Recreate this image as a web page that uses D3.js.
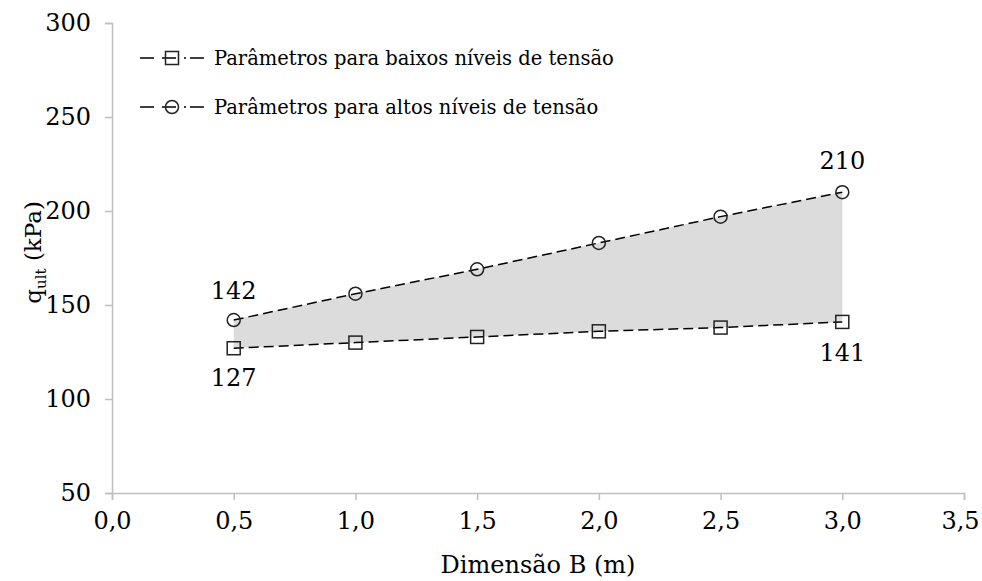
<!DOCTYPE html>
<html>
<head>
<meta charset="utf-8">
<script src="https://cdn.jsdelivr.net/npm/d3@7"></script>
<style>
  body { margin: 0; background: #fff; }
</style>
</head>
<body>
<div id="chart"></div>
<script>
// --------------- Data ---------------
const dimensoes = [0.5, 1.0, 1.5, 2.0, 2.5, 3.0];
const baixos = [127, 130, 133, 136, 138, 141];
const altos = [142, 156, 169, 183, 197, 210];
const xTicks = [0, 0.5, 1.0, 1.5, 2.0, 2.5, 3.0, 3.5];
const yTicks = [50, 100, 150, 200, 250, 300];
const legendLabels = [
  "Parâmetros para baixos níveis de tensão",
  "Parâmetros para altos níveis de tensão"
];

// --------------- Constants ---------------
const WIDTH = 982;
const HEIGHT = 581;
const FONT = "'DejaVu Serif', serif";
const AXIS_COLOR = "#bfbfbf";
const BAND_COLOR = "#dcdcdc";
const FS = 24;

const svg = d3.select("#chart")
  .append("svg")
  .attr("width", WIDTH)
  .attr("height", HEIGHT)
  .style("font-family", FONT);

const x = d3.scaleLinear().domain([0, 3.5]).range([112, 964]);
const y = d3.scaleLinear().domain([50, 300]).range([493, 23]);

const fmt = d => d3.format(".1f")(d).replace(".", ",");

// shaded band between series
const bandData = dimensoes.map((d, i) => ({ x: d, lo: baixos[i], hi: altos[i] }));
svg.append("path")
  .datum(bandData)
  .attr("fill", BAND_COLOR)
  .attr("d", d3.area().x(d => x(d.x)).y0(d => y(d.lo)).y1(d => y(d.hi)));

// axes
const yAxis = svg.append("g")
  .attr("transform", `translate(${x(0)},0)`)
  .call(d3.axisLeft(y).tickValues(yTicks).tickSize(7).tickPadding(14));
const xAxis = svg.append("g")
  .attr("transform", `translate(0,${y(50)})`)
  .call(d3.axisBottom(x).tickValues(xTicks).tickFormat(fmt).tickSize(7).tickPadding(12));

[xAxis, yAxis].forEach(a => {
  a.attr("font-family", null).attr("font-size", FS);
  a.selectAll("path, line").attr("stroke", AXIS_COLOR).attr("stroke-width", 1.5);
  a.selectAll("text").attr("fill", "#000");
});
// keep the last x label inside the frame
xAxis.selectAll(".tick text").filter(d => d === 3.5).attr("dx", -4);

// axis titles
svg.append("text")
  .attr("x", x(1.75)).attr("y", 573)
  .attr("text-anchor", "middle")
  .attr("font-size", FS)
  .text("Dimensão B (m)");

const yTitle = svg.append("text")
  .attr("transform", `translate(41,${y(178)}) rotate(-90)`)
  .attr("text-anchor", "middle")
  .attr("font-size", 23);
yTitle.append("tspan").text("q");
yTitle.append("tspan").attr("font-size", 15).attr("dy", 5).text("ult");
yTitle.append("tspan").attr("dy", -5).text(" (kPa)");

// series lines
const line = d3.line().x(d => x(d[0])).y(d => y(d[1]));
const series = [baixos, altos];
series.forEach(vals => {
  svg.append("path")
    .datum(dimensoes.map((d, i) => [d, vals[i]]))
    .attr("fill", "none")
    .attr("stroke", "#000")
    .attr("stroke-width", 1.5)
    .attr("stroke-dasharray", "10,5")
    .attr("d", line);
});

// markers
function drawMarker(g, kind, cx, cy) {
  if (kind === 0) {
    g.append("rect")
      .attr("x", cx - 6.5).attr("y", cy - 6.5)
      .attr("width", 13).attr("height", 13)
      .attr("fill", "none").attr("stroke", "#222").attr("stroke-width", 1.5);
  } else {
    g.append("circle")
      .attr("cx", cx).attr("cy", cy).attr("r", 6.5)
      .attr("fill", "none").attr("stroke", "#222").attr("stroke-width", 1.5);
  }
}
const markers = svg.append("g");
series.forEach((vals, k) => {
  dimensoes.forEach((d, i) => drawMarker(markers, k, x(d), y(vals[i])));
});

// data labels at ends
const labels = [
  { x: dimensoes[0], v: altos[0], dy: -21 },
  { x: dimensoes[0], v: baixos[0], dy: 38 },
  { x: dimensoes[5], v: altos[5], dy: -23 },
  { x: dimensoes[5], v: baixos[5], dy: 39 }
];
svg.append("g").selectAll("text")
  .data(labels)
  .enter()
  .append("text")
  .attr("x", d => x(d.x))
  .attr("y", d => y(d.v) + d.dy)
  .attr("text-anchor", "middle")
  .attr("font-size", FS)
  .text(d => d.v);

// legend
const legend = svg.append("g");
legendLabels.forEach((lab, k) => {
  const ly = 58 + k * 49;
  legend.append("line")
    .attr("x1", 140).attr("x2", 208)
    .attr("y1", ly).attr("y2", ly)
    .attr("stroke", "#000").attr("stroke-width", 1.5)
    .attr("stroke-dasharray", "14,8,14,8,2,4");
  drawMarker(legend, k, 172, ly);
  legend.append("text")
    .attr("x", 214).attr("y", ly + 7)
    .attr("font-size", 19.5)
    .text(lab);
});
</script>
</body>
</html>
